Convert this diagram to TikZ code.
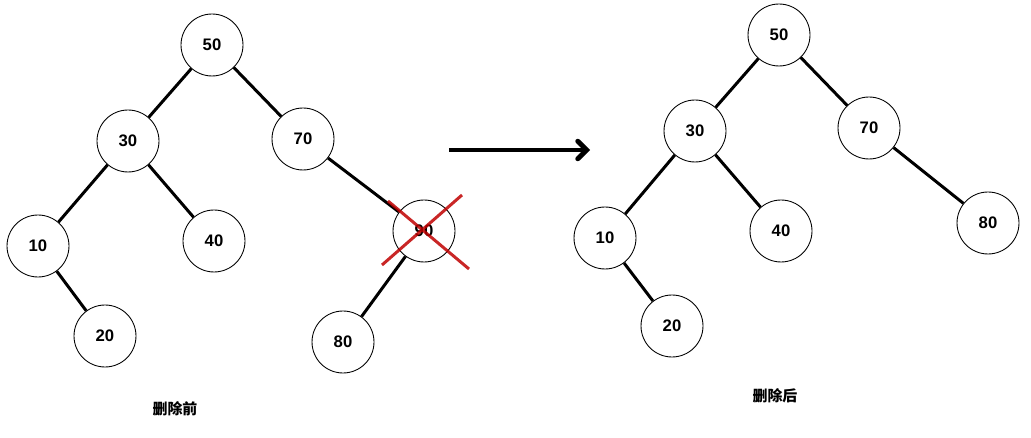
\documentclass[tikz,border=0pt]{standalone}
\usepackage{fontspec}
\setsansfont{Liberation Sans}
\newfontfamily\cjk{Noto Sans CJK SC}
\usetikzlibrary{arrows.meta}

\begin{document}
\begin{tikzpicture}[
		x=0.02cm, y=-0.02cm,
		every node/.style={circle, draw, line width=0.5pt, minimum size=1.24cm, inner sep=0pt,
			font=\sffamily\bfseries\fontsize{9.5}{11}\selectfont},
		treeedge/.style={line width=1.7pt},
		caption/.style={draw=none, rectangle, font=\cjk\bfseries\fontsize{8.5}{10}\selectfont}
	]
  \useasboundingbox (0,0) rectangle (1031,438);
  % before
  \node (a50) at (212, 45) {50};
  \node (a30) at (128, 141) {30};
  \node (a70) at (303, 139) {70};
  \node (a10) at (38, 246) {10};
  \node (a40) at (214, 241) {40};
  \node (a90) at (424, 231) {90};
  \node (a20) at (105, 336) {20};
  \node (a80) at (343, 342) {80};
  \draw [treeedge] (a50) -- (a30);
  \draw [treeedge] (a50) -- (a70);
  \draw [treeedge] (a30) -- (a10);
  \draw [treeedge] (a30) -- (a40);
  \draw [treeedge] (a10) -- (a20);
  \draw [treeedge] (a70) -- (a90);
  \draw [treeedge] (a90) -- (a80);
  \draw [line width=1.7pt, red!75!black, opacity=0.85]
    (a90) ++(-36,-30) -- ++(81,68)
    (a90) ++(38,-36) -- ++(-80,70);
  \node (cap1) [caption] at (175, 409) {删除前};
  % after
  \node (b50) at (779, 35) {50};
  \node (b30) at (695, 131) {30};
  \node (b70) at (869, 128) {70};
  \node (b10) at (605, 238) {10};
  \node (b40) at (781, 231) {40};
  \node (b80) at (988, 223) {80};
  \node (b20) at (672, 326) {20};
  \draw [treeedge] (b50) -- (b30);
  \draw [treeedge] (b50) -- (b70);
  \draw [treeedge] (b30) -- (b10);
  \draw [treeedge] (b30) -- (b40);
  \draw [treeedge] (b10) -- (b20);
  \draw [treeedge] (b70) -- (b80);
  \node (cap2) [caption] at (775, 396) {删除后};
  % arrow
  \coordinate (from) at (449, 150);
  \coordinate (to) at (590, 150);
  \draw [line width=2.8pt, -{Straight Barb[length=5pt, width=10pt, line cap=round]}] (from) -- (to);
\end{tikzpicture}
\end{document}
